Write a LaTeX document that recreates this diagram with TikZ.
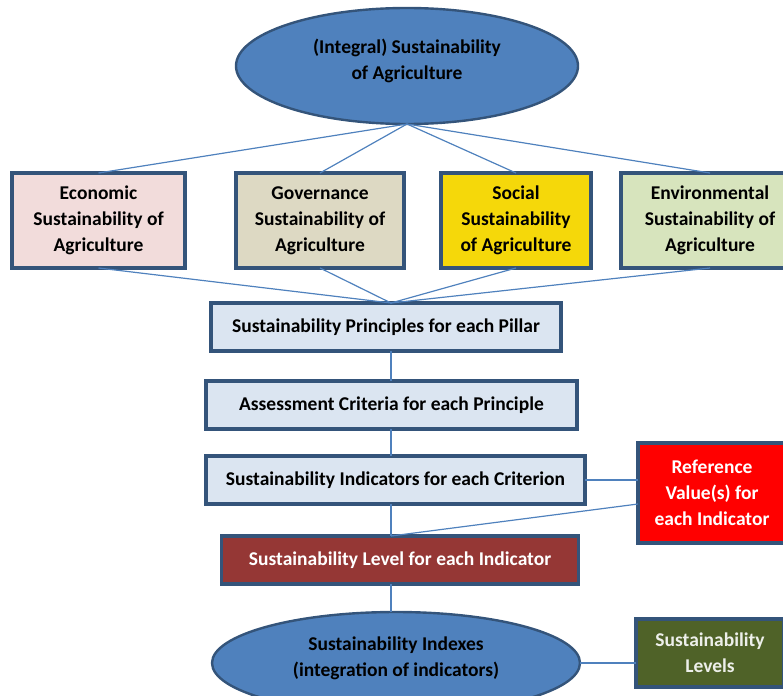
\documentclass[tikz,border=0pt]{standalone}
\usepackage{fontspec}
\setmainfont{Carlito}
\usetikzlibrary{shapes.geometric,calc}
\definecolor{sky}{HTML}{4F81BD}
\definecolor{rim}{HTML}{34547A}
\definecolor{ecofill}{HTML}{F2DCDB}
\definecolor{govfill}{HTML}{DDD9C3}
\definecolor{socfill}{HTML}{F5D80A}
\definecolor{envfill}{HTML}{D7E4BD}
\definecolor{stepfill}{HTML}{DBE5F1}
\definecolor{lvlfill}{HTML}{953735}
\definecolor{olive}{HTML}{4F6228}
\begin{document}
\begin{tikzpicture}[x=1pt,y=-1pt,inner sep=0pt,outer sep=0pt,
	font=\fontsize{19.5}{26}\selectfont\bfseries,
	box/.style={draw=rim,line width=3.4pt,align=center},
	oval/.style={ellipse,draw=rim,line width=2.4pt,fill=sky,align=center,text depth=13pt},
	link/.style={draw=sky,line width=1.2pt}]
	\useasboundingbox (0,0) rectangle (783,695);
	\node[oval,minimum width=342,minimum height=116] (top) at (407,66) {(Integral) Sustainability\\of Agriculture};
	\node[box,fill=ecofill,minimum width=173,minimum height=95] (eco) at (98.5,220.5) {Economic\\Sustainability of\\Agriculture};
	\node[box,fill=govfill,minimum width=168,minimum height=95] (gov) at (320,220.5) {Governance\\Sustainability of\\Agriculture};
	\node[box,fill=socfill,minimum width=150,minimum height=95] (soc) at (516,220.5) {Social\\Sustainability\\of Agriculture};
	\node[box,fill=envfill,minimum width=178,minimum height=95] (env) at (710,220.5) {Environmental\\Sustainability of\\Agriculture};
	\node[box,fill=stepfill,minimum width=350,minimum height=48] (princ) at (386,327) {Sustainability Principles for each Pillar};
	\node[box,fill=stepfill,minimum width=371,minimum height=48] (crit) at (391.5,405) {Assessment Criteria for each Principle};
	\node[box,fill=stepfill,minimum width=379,minimum height=48] (indic) at (395.5,480) {Sustainability Indicators for each Criterion};
	\node[box,fill=red,text=white,minimum width=148,minimum height=100] (ref) at (712,493) {Reference\\Value(s) for\\each Indicator};
	\node[box,fill=lvlfill,text=white,minimum width=357,minimum height=48] (lvl) at (400,560) {Sustainability Level for each Indicator};
	\node[oval,minimum width=368,minimum height=102] (idx) at (396,663) {Sustainability Indexes\\(integration of indicators)};
	\node[box,fill=olive,text=olive!10,minimum width=148,minimum height=68] (lvls) at (710,653) {Sustainability\\Levels};
	\coordinate (trunk) at (391,0);
	% pillars
	\foreach \p in {eco,gov,soc,env}{
		\draw[link] (top.south) -- (\p.north);
		\draw[link] (\p.south) -- (princ.north -| trunk);
	}
	% chain
	\draw[link] (princ.south -| trunk) -- (crit.north -| trunk);
	\draw[link] (crit.south -| trunk) -- (indic.north -| trunk);
	\draw[link] (indic.south -| trunk) -- (lvl.north -| trunk);
	\draw[link] (indic.east) -- (indic.east -| ref.west);
	\draw[link] ($(ref.north west)!0.61!(ref.south west)$) -- (lvl.north -| trunk);
	\draw[link] (lvl.south -| trunk) -- (idx.north -| trunk);
	\draw[link] (idx.east) -- (idx.east -| lvls.west);
\end{tikzpicture}
\end{document}
